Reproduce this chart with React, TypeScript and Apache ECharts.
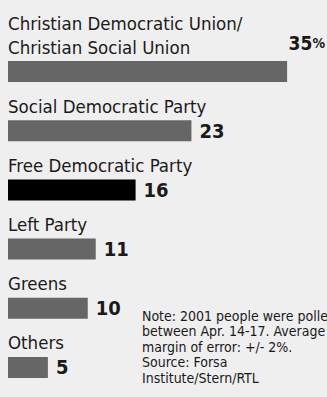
import React, { useEffect, useRef } from "react";
import * as echarts from "echarts";

const categories = [
  "Christian Democratic Union/\nChristian Social Union",
  "Social Democratic Party",
  "Free Democratic Party",
  "Left Party",
  "Greens",
  "Others",
];
const values = [35, 23, 16, 11, 10, 5];
const highlighted = "Free Democratic Party";
const noteLines = [
  "Note: 2001 people were polled",
  "between Apr. 14-17. Average",
  "margin of error: +/- 2%.",
  "Source: Forsa",
  "Institute/Stern/RTL",
];

const FONT = '"DejaVu Sans Condensed", "Liberation Sans Narrow", Roboto, sans-serif';
const TEXT = "#1a1a1a";

export default function App() {
  const ref = useRef<HTMLDivElement>(null);
  useEffect(() => {
    if (!ref.current) return;
    const chart = echarts.init(ref.current, undefined, { renderer: "svg" });
    const barData = values.map((v, i) => {
      const item: any = {
        value: v,
        itemStyle: { color: categories[i] === highlighted ? "#000000" : "#666666" },
      };
      if (i === 0) {
        item.label = {
          position: [317, -18],
          align: "right",
          verticalAlign: "middle",
          formatter: () => `{b|${v}}{p|%}`,
        };
      }
      return item;
    });
    chart.setOption({
      animation: false,
      backgroundColor: "#efefef",
      grid: { left: 8, top: 42, width: 320, height: 376, containLabel: false },
      xAxis: { type: "value", min: 0, max: 40, show: false },
      yAxis: { type: "category", data: categories, inverse: true, show: false },
      series: [
        {
          type: "bar",
          data: values,
          barWidth: 21,
          barGap: "-100%",
          silent: true,
          itemStyle: { color: "rgba(0,0,0,0)" },
          label: {
            show: true,
            position: [0, -2],
            align: "left",
            verticalAlign: "bottom",
            fontFamily: FONT,
            fontSize: 18.5,
            lineHeight: 24,
            color: TEXT,
            formatter: (p: any) => categories[p.dataIndex],
          },
          z: 1,
        },
        {
          type: "bar",
          data: barData,
          barWidth: 21,
          barGap: "-100%",
          silent: true,
          label: {
            show: true,
            position: "right",
            distance: 8,
            fontFamily: FONT,
            fontSize: 20,
            fontWeight: "bold",
            color: TEXT,
            formatter: (p: any) => String(p.value),
            rich: {
              b: { fontFamily: FONT, fontSize: 19, fontWeight: "bold", color: TEXT },
              p: { fontFamily: FONT, fontSize: 14, color: TEXT },
            },
          },
          z: 2,
        },
      ],
      graphic: [
        {
          type: "text",
          left: 142,
          top: 308,
          silent: true,
          style: {
            text: noteLines.join("\n"),
            fontFamily: FONT,
            fontSize: 14,
            lineHeight: 15.5,
            fill: TEXT,
          },
        },
      ],
    });
    return () => chart.dispose();
  }, []);
  return (
    <div
      ref={ref}
      style={{ position: "fixed", left: 0, top: 0, width: 327, height: 397 }}
    />
  );
}
